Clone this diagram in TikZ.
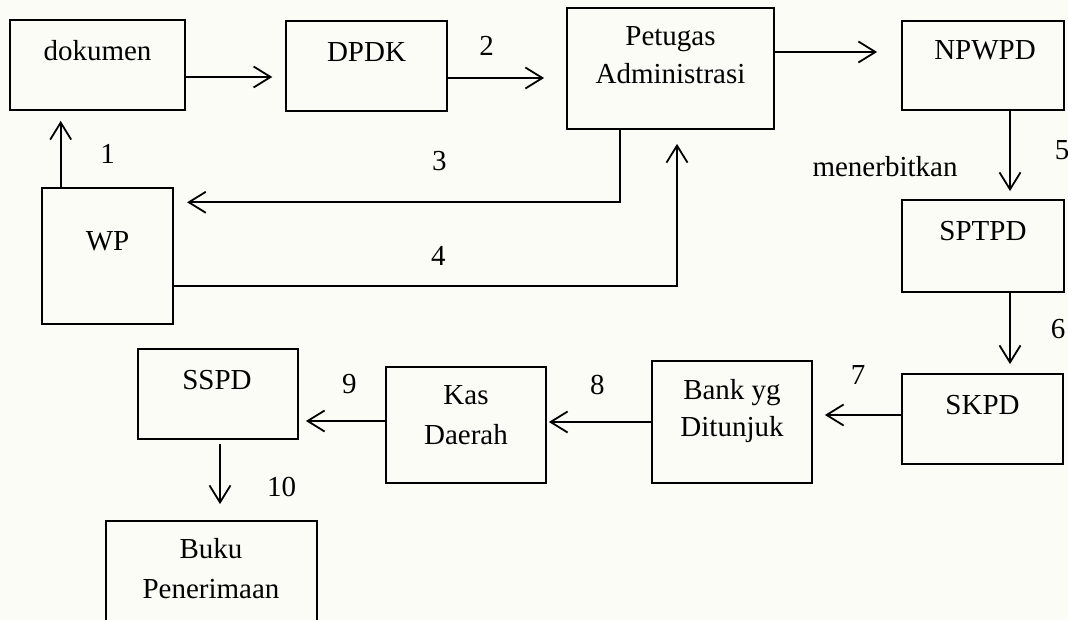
\documentclass[tikz,border=0pt]{standalone}
\usepackage{fontspec}
\setmainfont{Liberation Serif}
\usetikzlibrary{arrows.meta}
\definecolor{paper}{HTML}{FCFCF6}
\begin{document}
\begin{tikzpicture}[x=1pt,y=-1pt,
  box/.style={draw, line width=1.8pt, inner sep=0pt},
  lbl/.style={anchor=base, inner sep=0pt, font=\fontsize{29}{33}\selectfont},
  flow/.style={line width=1.8pt, -{Straight Barb[length=17pt,width=21pt,line width=1.8pt]}}]

\useasboundingbox (0,0) rectangle (1068,620);
\clip (0,0) rectangle (1068,620);
\fill[paper] (0,0) rectangle (1068,620);

% boxes
\node[box, minimum width=175pt, minimum height=90pt]  (dok)   at (97.5,65)  {};
\node[box, minimum width=161pt, minimum height=90pt]  (dpdk)  at (366.7,66)   {};
\node[box, minimum width=207pt, minimum height=121pt] (pet)   at (670.5,68.5) {};
\node[box, minimum width=162pt, minimum height=89pt]  (npwpd) at (983,65.5) {};
\node[box, minimum width=162pt, minimum height=92pt]  (sptpd) at (983,246)  {};
\node[box, minimum width=161pt, minimum height=90pt]  (skpd)  at (982.5,419) {};
\node[box, minimum width=160pt, minimum height=122pt] (bank)  at (732,422)  {};
\node[box, minimum width=160pt, minimum height=116pt] (kas)   at (466,425)  {};
\node[box, minimum width=160pt, minimum height=90pt]  (sspd)  at (218,394)  {};
\node[box, minimum width=211pt, minimum height=128pt] (buku)  at (211.5,585) {};
\node[box, minimum width=131pt, minimum height=136pt] (wp)    at (107.2,255.8) {};

% box texts
\node[lbl] (dok-t)   at (97.5,61)  {dokumen};
\node[lbl] (dpdk-t)  at (366.5,61.5) {DPDK};
\node[lbl] (pet-t1)  at (670.5,45.7) {Petugas};
\node[lbl] (pet-t2)  at (670.5,83.3) {Administrasi};
\node[lbl] (npwpd-t) at (985,60)   {NPWPD};
\node[lbl] (sptpd-t) at (983,240.7) {SPTPD};
\node[lbl] (skpd-t)  at (982.5,414.3) {SKPD};
\node[lbl] (bank-t1) at (732,399.3) {Bank yg};
\node[lbl] (bank-t2) at (732,436.7) {Ditunjuk};
\node[lbl] (kas-t1)  at (466,404)  {Kas};
\node[lbl] (kas-t2)  at (466,444.3) {Daerah};
\node[lbl] (sspd-t)  at (217,389.3) {SSPD};
\node[lbl] (buku-t1) at (211,558.3) {Buku};
\node[lbl] (buku-t2) at (211,598.3) {Penerimaan};
\node[lbl] (wp-t)    at (107.5,250.7) {WP};
\node[lbl] (terbit)  at (885,176.7) {menerbitkan};

% step numbers
\node[lbl] (n1)  at (107.5,163.3) {1};
\node[lbl] (n2)  at (486.7,56)   {2};
\node[lbl] (n3)  at (439.3,171)  {3};
\node[lbl] (n4)  at (438.3,265.5) {4};
\node[lbl] (n5)  at (1062,159.5) {5};
\node[lbl] (n6)  at (1058,338)   {6};
\node[lbl] (n7)  at (858,384)    {7};
\node[lbl] (n8)  at (597.3,394)  {8};
\node[lbl] (n9)  at (349.3,393.3) {9};
\node[lbl] (n10) at (281.7,496.7) {10};

% connectors
\draw[flow] ([yshift=-12pt]dok.east) coordinate (s0) -- ([xshift=-13pt]dpdk.west |- s0);
\draw[flow] ([yshift=-12pt]dpdk.east) coordinate (s2) -- ([xshift=-22pt]pet.west |- s2);
\draw[flow] ([yshift=16.5pt]pet.east) coordinate (s4) -- ([xshift=-24pt]npwpd.west |- s4);
\draw[flow] ([xshift=27pt]npwpd.south) coordinate (s5) -- ([yshift=8pt]sptpd.north -| s5);
\draw[flow] ([xshift=27pt]sptpd.south) coordinate (s6) -- ([yshift=9pt]skpd.north -| s6);
\draw[flow] ([yshift=4pt]skpd.west) coordinate (s7) -- ([xshift=12pt]bank.east |- s7);
\draw[flow] (bank.west) -- ([xshift=2pt]kas.east |- bank.west);
\draw[flow] ([yshift=4pt]kas.west) coordinate (s9) -- ([xshift=7pt]sspd.east |- s9);
\draw[flow] ([xshift=2pt,yshift=-4pt]sspd.south) coordinate (s10) -- ([yshift=16pt]buku.north -| s10);
\draw[flow] ([xshift=-46.5pt]wp.north) coordinate (s1) -- ([yshift=-10pt]dok.south -| s1);
\draw[flow] ([xshift=-50.5pt]pet.south) |- ([xshift=13.5pt,yshift=53.5pt]wp.east);
\draw[flow] ([yshift=-30pt]wp.east) -| ([xshift=6.5pt,yshift=-14pt]pet.south);
\end{tikzpicture}
\end{document}
